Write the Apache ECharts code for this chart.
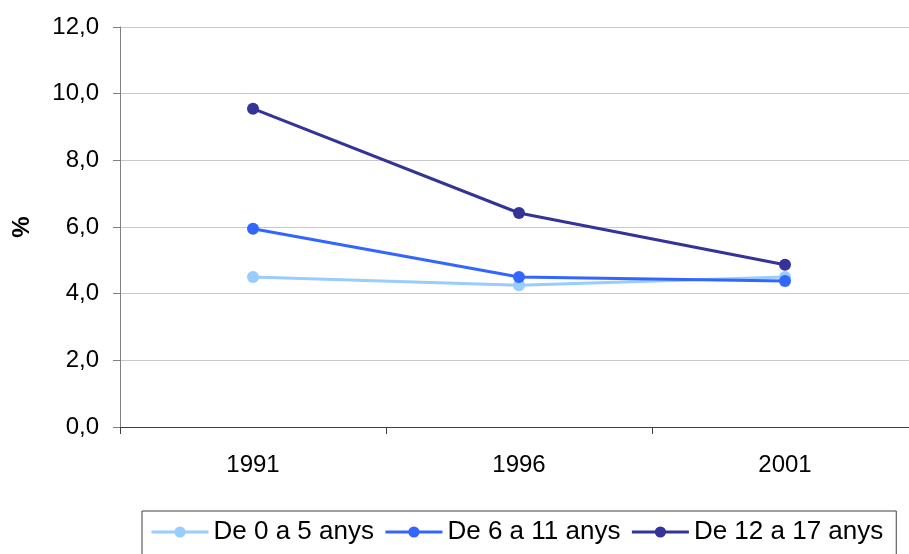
<!DOCTYPE html>
<html>
<head>
<meta charset="utf-8">
<script src="https://cdn.jsdelivr.net/npm/echarts@6/dist/echarts.min.js"></script>
<style>
  html, body { margin: 0; padding: 0; background: #fff; overflow: hidden; }
  /* the plot runs a little past the right edge of the picture */
  #chart { width: 918px; height: 554px; }
</style>
</head>
<body>
<div id="chart"></div>
<script>
// anys i percentatges
var years = ['1991', '1996', '2001'];
var nens0a5 = [4.5, 4.25, 4.5];
var nens6a11 = [5.95, 4.5, 4.38];
var nens12a17 = [9.55, 6.42, 4.87];
var seriesNames = ['De 0 a 5 anys', 'De 6 a 11 anys', 'De 12 a 17 anys'];
var seriesColors = ['#99ccff', '#3366ff', '#333399'];

var font = 'Liberation Sans, Arial, sans-serif';

function lineSeries(name, data, color) {
  return {
    name: name,
    type: 'line',
    data: data,
    symbol: 'circle',
    symbolSize: 12,
    lineStyle: { color: color, width: 3 },
    itemStyle: { color: color },
    emphasis: { disabled: true }
  };
}

var chart = echarts.init(document.getElementById('chart'));

var option = {
  animation: false,
  backgroundColor: '#fff',
  grid: {
    left: 120,
    top: 27,
    right: 0,
    height: 400
  },
  legend: {
    data: seriesNames,
    left: 142,
    top: 511,
    orient: 'horizontal',
    itemWidth: 57,
    itemHeight: 14,
    itemGap: 10,
    padding: [8, 13, 30, 8],
    borderColor: '#404040',
    borderWidth: 1,
    lineStyle: { width: 3 },
    textStyle: { fontFamily: font, fontSize: 26, color: '#000' }
  },
  xAxis: {
    type: 'category',
    data: years,
    boundaryGap: true,
    axisLine: { lineStyle: { color: '#404040', width: 1 } },
    axisTick: { show: true, length: 7, interval: 0, lineStyle: { color: '#404040' } },
    axisLabel: { fontFamily: font, fontSize: 24, color: '#000', margin: 26 },
    splitLine: { show: false }
  },
  yAxis: {
    type: 'value',
    min: 0,
    max: 12,
    interval: 2,
    name: '%',
    nameLocation: 'middle',
    nameRotate: 90,
    nameGap: 86,
    nameTextStyle: { fontFamily: font, fontSize: 24, fontWeight: 'bold', color: '#000' },
    axisLine: { show: true, lineStyle: { color: '#808080', width: 1 } },
    axisTick: { show: true, length: 7, lineStyle: { color: '#808080' } },
    axisLabel: {
      fontFamily: font, fontSize: 24, color: '#000', margin: 21,
      formatter: function (v) { return v.toFixed(1).replace('.', ','); }
    },
    splitLine: { show: true, lineStyle: { color: '#c8c8c8', width: 1 } }
  },
  series: [
    lineSeries(seriesNames[0], nens0a5, seriesColors[0]),
    lineSeries(seriesNames[1], nens6a11, seriesColors[1]),
    lineSeries(seriesNames[2], nens12a17, seriesColors[2])
  ]
};

chart.setOption(option);
</script>
</body>
</html>
